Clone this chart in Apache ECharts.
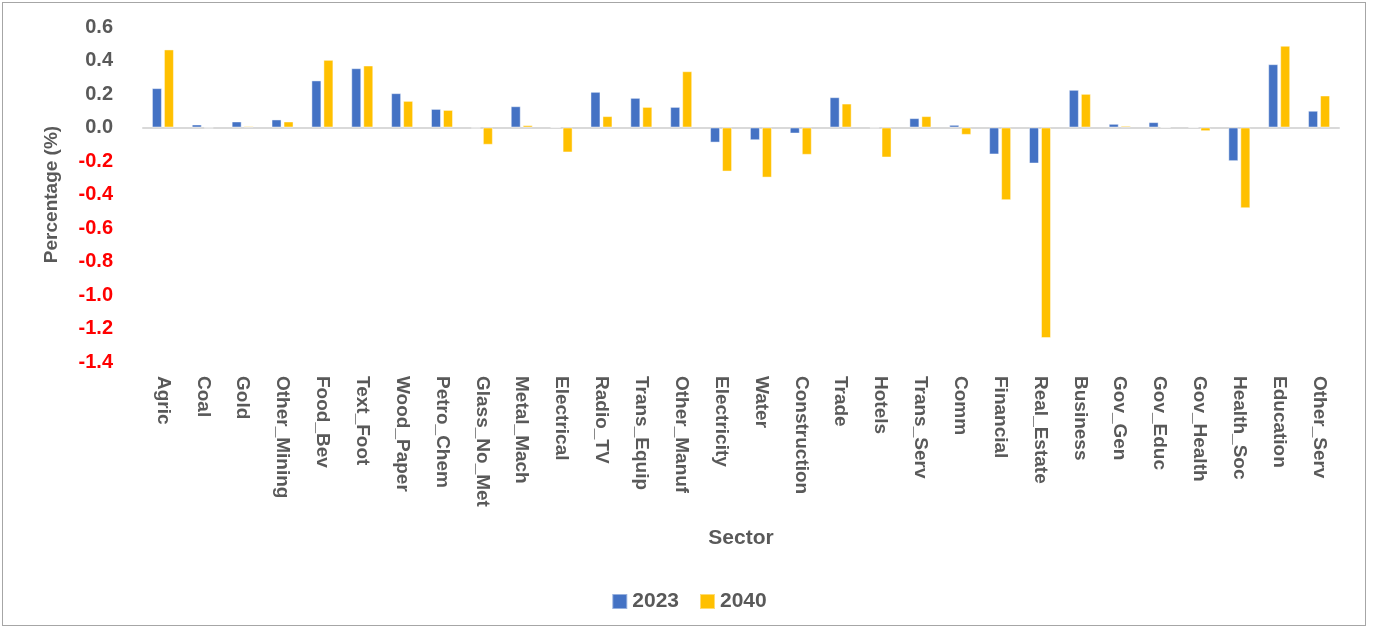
<!DOCTYPE html>
<html>
<head>
<meta charset="utf-8">
<script src="https://cdn.jsdelivr.net/npm/echarts@6/dist/echarts.min.js"></script>
<style>
  html, body { margin: 0; padding: 0; background: #ffffff; }
  #frame { position: absolute; left: 2px; top: 2px; width: 1364px; height: 624px; border: 1px solid #a6a6a6; box-sizing: border-box; }
  #chart { position: absolute; left: 0; top: 0; width: 1378px; height: 631px; }
</style>
</head>
<body>
<div id="frame"></div>
<div id="chart"></div>
<script>
// Sectors along the x axis
const sectors = [
  'Agric', 'Coal', 'Gold', 'Other_Mining', 'Food_Bev', 'Text_Foot', 'Wood_Paper',
  'Petro_Chem', 'Glass_No_Met', 'Metal_Mach', 'Electrical', 'Radio_TV', 'Trans_Equip',
  'Other_Manuf', 'Electricity', 'Water', 'Construction', 'Trade', 'Hotels', 'Trans_Serv',
  'Comm', 'Financial', 'Real_Estate', 'Business', 'Gov_Gen', 'Gov_Educ', 'Gov_Health',
  'Health_Soc', 'Education', 'Other_Serv'
];

// Percentage change per sector, 2023
const values2023 = [
  0.235, 0.018, 0.036, 0.048, 0.281, 0.354, 0.205,
  0.111, -0.005, 0.127, 0.0, 0.213, 0.177,
  0.123, -0.090, -0.076, -0.036, 0.181, -0.004, 0.056,
  0.016, -0.161, -0.215, 0.225, 0.022, 0.032, 0.0,
  -0.201, 0.378, 0.100
];

// Percentage change per sector, 2040
const values2040 = [
  0.466, -0.005, 0.008, 0.036, 0.404, 0.370, 0.159,
  0.105, -0.103, 0.014, -0.149, 0.068, 0.123,
  0.336, -0.263, -0.299, -0.163, 0.143, -0.179, 0.068,
  -0.044, -0.434, -1.257, 0.201, 0.010, 0.0, -0.022,
  -0.482, 0.488, 0.191
];

// Value axis range and step
const yMin = -1.4;
const yMax = 0.6;
const yStep = 0.2;

const chart = echarts.init(document.getElementById('chart'), null, { renderer: 'canvas' });

const labelFont = 'Liberation Sans, Arial, sans-serif';
const grey = '#595959';

chart.setOption({
  animation: false,
  backgroundColor: 'transparent',
  grid: { left: 143, right: 39, top: 27, bottom: 269 },
  legend: {
    data: ['2023', '2040'],
    top: 586,
    left: 'center',
    itemWidth: 15,
    itemHeight: 15,
    itemGap: 20,
    icon: 'rect',
    textStyle: { color: grey, fontSize: 21, fontWeight: 'bold', fontFamily: labelFont }
  },
  xAxis: [
    {
      type: 'category',
      data: sectors,
      position: 'bottom',
      axisLine: { show: false, onZero: false },
      axisTick: { show: false },
      axisLabel: {
        rotate: -90,
        interval: 0,
        margin: 14,
        color: grey,
        fontSize: 19,
        fontWeight: 'bold',
        fontFamily: labelFont
      },
      name: 'Sector',
      nameLocation: 'middle',
      nameGap: 166,
      nameTextStyle: { color: grey, fontSize: 21, fontWeight: 'bold', fontFamily: labelFont }
    },
    {
      // zero baseline
      type: 'category',
      data: sectors,
      position: 'bottom',
      axisLine: { show: true, onZero: true, lineStyle: { color: '#d9d9d9', width: 2 } },
      axisTick: { show: false },
      axisLabel: { show: false }
    }
  ],
  yAxis: {
    type: 'value',
    min: yMin,
    max: yMax,
    interval: yStep,
    axisLine: { show: false },
    axisTick: { show: false },
    splitLine: { show: false },
    axisLabel: {
      margin: 30,
      fontSize: 20,
      fontWeight: 'bold',
      fontFamily: labelFont,
      formatter: function (v) {
        const txt = v.toFixed(1);
        return v < -1e-9 ? '{neg|' + txt + '}' : '{pos|' + txt + '}';
      },
      rich: {
        pos: { color: grey, fontSize: 20, fontWeight: 'bold', fontFamily: labelFont },
        neg: { color: '#ff0000', fontSize: 20, fontWeight: 'bold', fontFamily: labelFont }
      }
    },
    name: 'Percentage (%)',
    nameLocation: 'middle',
    nameGap: 82,
    nameTextStyle: { color: grey, fontSize: 19, fontWeight: 'bold', fontFamily: labelFont }
  },
  series: [
    {
      name: '2023',
      type: 'bar',
      data: values2023,
      barWidth: 10,
      barGap: '20%',
      itemStyle: { color: '#4472c4', borderColor: 'rgba(255,255,255,0.45)', borderWidth: 1 }
    },
    {
      name: '2040',
      type: 'bar',
      data: values2040,
      barWidth: 10,
      barGap: '20%',
      itemStyle: { color: '#ffc000', borderColor: 'rgba(255,255,255,0.45)', borderWidth: 1 }
    }
  ]
});
</script>
</body>
</html>
